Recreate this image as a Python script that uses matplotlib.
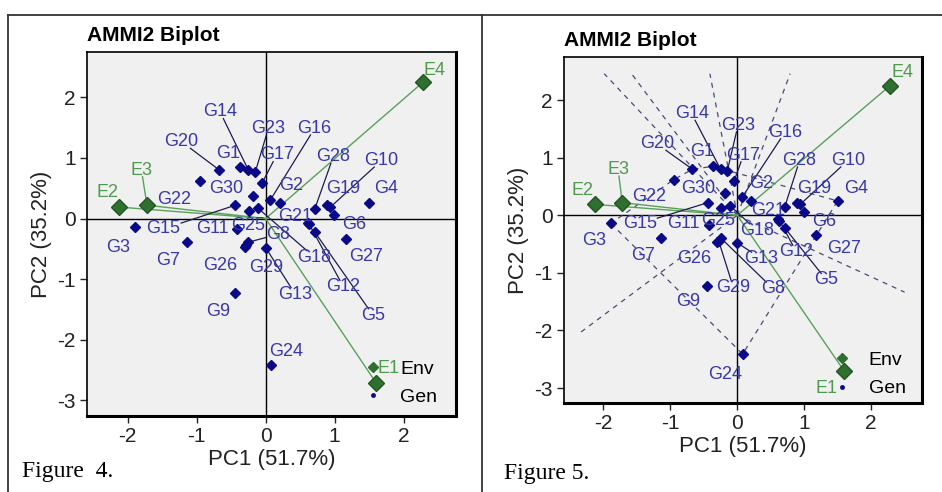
import numpy as np
import matplotlib.pyplot as plt
from matplotlib.lines import Line2D

plt.rcParams['font.family'] = ['Liberation Sans', 'DejaVu Sans']
plt.rcParams['axes.unicode_minus'] = False

# genotype scores (PC1, PC2)
gen_names = ['G1', 'G2', 'G3', 'G4', 'G5', 'G6', 'G7', 'G8', 'G9', 'G10',
             'G11', 'G12', 'G13', 'G14', 'G15', 'G16', 'G17', 'G18', 'G19', 'G20',
             'G21', 'G22', 'G23', 'G24', 'G25', 'G26', 'G27', 'G28', 'G29', 'G30']
gen_pc1 = [-0.37, 0.21, -1.89, 1.50, 0.71, 0.99, -1.14, -0.25, -0.45, 0.94,
           -0.42, 0.63, 0.00, -0.25, -0.44, 0.07, -0.05, -0.11, 0.89, -0.67,
           0.61, -0.95, -0.15, 0.08, -0.24, -0.30, 1.17, 0.71, -0.28, -0.19]
gen_pc2 = [0.85, 0.25, -0.14, 0.25, -0.22, 0.06, -0.39, -0.39, -1.23, 0.19,
           -0.17, -0.09, -0.48, 0.80, 0.22, 0.31, 0.59, 0.17, 0.22, 0.80,
           -0.07, 0.62, 0.77, -2.41, 0.12, -0.47, -0.34, 0.15, -0.44, 0.38]

# environment scores
env_names = ['E1', 'E2', 'E3', 'E4']
env_pc1 = [1.60, -2.13, -1.72, 2.28]
env_pc2 = [-2.71, 0.19, 0.22, 2.25]

# label placement for each figure (data units)
lab4 = {'G1': (-0.55, 1.07), 'G2': (0.37, 0.55), 'G3': (-2.14, -0.47), 'G4': (1.74, 0.50),
        'G5': (1.56, -1.60), 'G6': (1.29, -0.09), 'G7': (-1.41, -0.69), 'G8': (0.18, -0.26),
        'G9': (-0.69, -1.54), 'G10': (1.68, 0.96), 'G11': (-0.77, -0.17), 'G12': (1.13, -1.13),
        'G13': (0.43, -1.25), 'G14': (-0.66, 1.76), 'G15': (-1.48, -0.17), 'G16': (0.71, 1.49),
        'G17': (0.16, 1.05), 'G18': (0.71, -0.64), 'G19': (1.13, 0.50), 'G20': (-1.22, 1.27),
        'G21': (0.43, 0.04), 'G22': (-1.33, 0.32), 'G23': (0.04, 1.49), 'G24': (0.30, -2.20),
        'G25': (-0.25, -0.11), 'G26': (-0.66, -0.77), 'G27': (1.46, -0.63), 'G28': (0.98, 1.02),
        'G29': (0.01, -0.80), 'G30': (-0.57, 0.50)}
lab5 = {'G1': (-0.53, 1.10), 'G2': (0.36, 0.55), 'G3': (-2.14, -0.43), 'G4': (1.77, 0.46),
        'G5': (1.33, -1.12), 'G6': (1.30, -0.10), 'G7': (-1.41, -0.69), 'G8': (0.53, -1.27),
        'G9': (-0.73, -1.50), 'G10': (1.65, 0.95), 'G11': (-0.80, -0.14), 'G12': (0.88, -0.63),
        'G13': (0.36, -0.75), 'G14': (-0.68, 1.76), 'G15': (-1.45, -0.14), 'G16': (0.71, 1.44),
        'G17': (0.09, 1.04), 'G18': (0.29, -0.26), 'G19': (1.15, 0.46), 'G20': (-1.20, 1.24),
        'G21': (0.46, 0.09), 'G22': (-1.32, 0.32), 'G23': (0.01, 1.56), 'G24': (-0.18, -2.77),
        'G25': (-0.29, -0.09), 'G26': (-0.65, -0.75), 'G27': (1.60, -0.58), 'G28': (0.93, 0.95),
        'G29': (-0.06, -1.25), 'G30': (-0.58, 0.46)}
lead4 = ['G5', 'G8', 'G10', 'G12', 'G13', 'G14', 'G15', 'G16', 'G17', 'G18', 'G20', 'G23', 'G28']
lead5 = lead4 + ['G29']
elab4 = {'E1': (1.78, -2.47), 'E2': (-2.30, 0.43), 'E3': (-1.80, 0.80), 'E4': (2.45, 2.45)}
elab5 = {'E1': (1.33, -3.00), 'E2': (-2.31, 0.43), 'E3': (-1.78, 0.79), 'E4': (2.47, 2.48)}

GEN_C = '#0a0a88'
GLAB_C = '#3838a8'
ENV_C = '#2f6f2f'
ELAB_C = '#4f9a4f'
ELINE_C = '#5aa05a'
BG = '#f0f0f0'


def leader_end(lx, ly, px, py, name):
    # where a line from the label centre leaves the label box
    hw = 0.075 * len(name) + 0.03
    hh = 0.11
    dx, dy = px - lx, py - ly
    t = min(hw / abs(dx) if dx else np.inf, hh / abs(dy) if dy else np.inf)
    return lx + t * dx, ly + t * dy


def convex_hull(pts):
    pts = sorted(pts)
    def cross(o, a, b):
        return (a[0] - o[0]) * (b[1] - o[1]) - (a[1] - o[1]) * (b[0] - o[0])
    lower, upper = [], []
    for p in pts:
        while len(lower) >= 2 and cross(lower[-2], lower[-1], p) <= 0:
            lower.pop()
        lower.append(p)
    for p in reversed(pts):
        while len(upper) >= 2 and cross(upper[-2], upper[-1], p) <= 0:
            upper.pop()
        upper.append(p)
    return lower[:-1] + upper[:-1]


def panel(ax, labpos, leaders, elabpos, polygon, leg_anchor):
    ax.set_facecolor(BG)
    ax.set_xlim(-2.59, 2.76)
    ax.set_ylim(-3.26, 2.75)
    ax.axhline(0, color='black', lw=1.0, zorder=1)
    ax.axvline(0, color='black', lw=1.0, zorder=1)

    if polygon:
        hull = convex_hull(list(zip(gen_pc1, gen_pc2)))
        hx = [p[0] for p in hull] + [hull[0][0]]
        hy = [p[1] for p in hull] + [hull[0][1]]
        ax.plot(hx, hy, ls=(0, (4, 4)), color='#4a4a7a', lw=0.9, zorder=2)
        for i in range(len(hull)):
            (x1, y1), (x2, y2) = hull[i], hull[(i + 1) % len(hull)]
            nx, ny = (y2 - y1), -(x2 - x1)
            t = min((2.50 if nx > 0 else -2.35) / nx if nx else np.inf,
                    (2.46 if ny > 0 else -2.50) / ny if ny else np.inf)
            ax.plot([0, nx * t], [0, ny * t], ls=(0, (4, 4)), color='#4a4a7a', lw=0.9, zorder=2)

    # environment vectors
    for n, x, y in zip(env_names, env_pc1, env_pc2):
        ax.plot([0, x], [0, y], color=ELINE_C, lw=1.0, zorder=3)
        lx, ly = elabpos[n]
        if n == 'E3':
            ex, ey = leader_end(lx, ly, x, y, n)
            ax.plot([ex, x], [ey, y], color=ELINE_C, lw=1.0, zorder=3)
        ax.text(lx, ly, n, color=ELAB_C, fontsize=13, ha='center', va='center', zorder=6)
    ax.plot(env_pc1, env_pc2, ls='none', marker='D', ms=8, color=ENV_C,
            markeredgecolor='#245524', zorder=5)

    # genotypes
    for n, x, y in zip(gen_names, gen_pc1, gen_pc2):
        lx, ly = labpos[n]
        if n in leaders:
            ex, ey = leader_end(lx, ly, x, y, n)
            ax.plot([ex, x], [ey, y], color='#1c1c50', lw=0.9, zorder=4)
        ax.text(lx, ly, n, color=GLAB_C, fontsize=13, ha='center', va='center', zorder=6)
    ax.plot(gen_pc1, gen_pc2, ls='none', marker='D', ms=4.8, color=GEN_C, zorder=5)

    handles = [Line2D([], [], ls='none', marker='D', ms=5.5, color=ENV_C, label='Env'),
               Line2D([], [], ls='none', marker='.', ms=5, color=GEN_C, label='Gen')]
    ax.legend(handles=handles, loc='lower right', bbox_to_anchor=leg_anchor,
              frameon=False, fontsize=14,
              handlelength=1.0, handletextpad=0.9, labelspacing=0.55,
              borderaxespad=0.2, borderpad=0.3)

    ax.set_xticks([-2, -1, 0, 1, 2])
    ax.set_yticks([-3, -2, -1, 0, 1, 2])
    ax.tick_params(labelsize=15, length=5, width=1, colors='#222222', pad=3)
    ax.set_xlabel('PC1 (51.7%)', fontsize=16, color='#222222', labelpad=2)
    ax.set_ylabel('PC2 (35.2%)', fontsize=16, color='#222222', labelpad=4)
    ax.set_title('AMMI2 Biplot', loc='left', fontsize=15, fontweight='bold', pad=8)
    for side in ['left', 'top']:
        ax.spines[side].set_linewidth(1.2)
    for side in ['right', 'bottom']:
        ax.spines[side].set_linewidth(2.2)


W, H = 942, 492
fig = plt.figure(figsize=(W / 100, H / 100), dpi=100)
fig.patch.set_facecolor('white')

ax1 = fig.add_axes([87 / W, 1 - 416 / H, 369 / W, 364 / H])
panel(ax1, lab4, lead4, elab4, polygon=False, leg_anchor=(0.976, 0.0))
ax2 = fig.add_axes([564 / W, 1 - 403 / H, 358 / W, 346 / H])
panel(ax2, lab5, lead5, elab5, polygon=True, leg_anchor=(0.982, -0.012))

# outer frame of the composite picture
def fline(x0, y0, x1, y1):
    fig.add_artist(Line2D([x0 / W, x1 / W], [1 - y0 / H, 1 - y1 / H],
                          transform=fig.transFigure, color='#333333', lw=1.3))

fline(8, 15, W, 15)
fline(8, 15, 8, H)
fline(482, 15, 482, H)

fig.text(22 / W, 1 - 472 / H, 'Figure  4.', fontsize=17, family=['Liberation Serif', 'DejaVu Serif'],
         va='center', ha='left')
fig.text(504 / W, 1 - 473 / H, 'Figure 5.', fontsize=17, family=['Liberation Serif', 'DejaVu Serif'],
         va='center', ha='left')

fig.savefig('out.png', dpi=100, facecolor='white')
